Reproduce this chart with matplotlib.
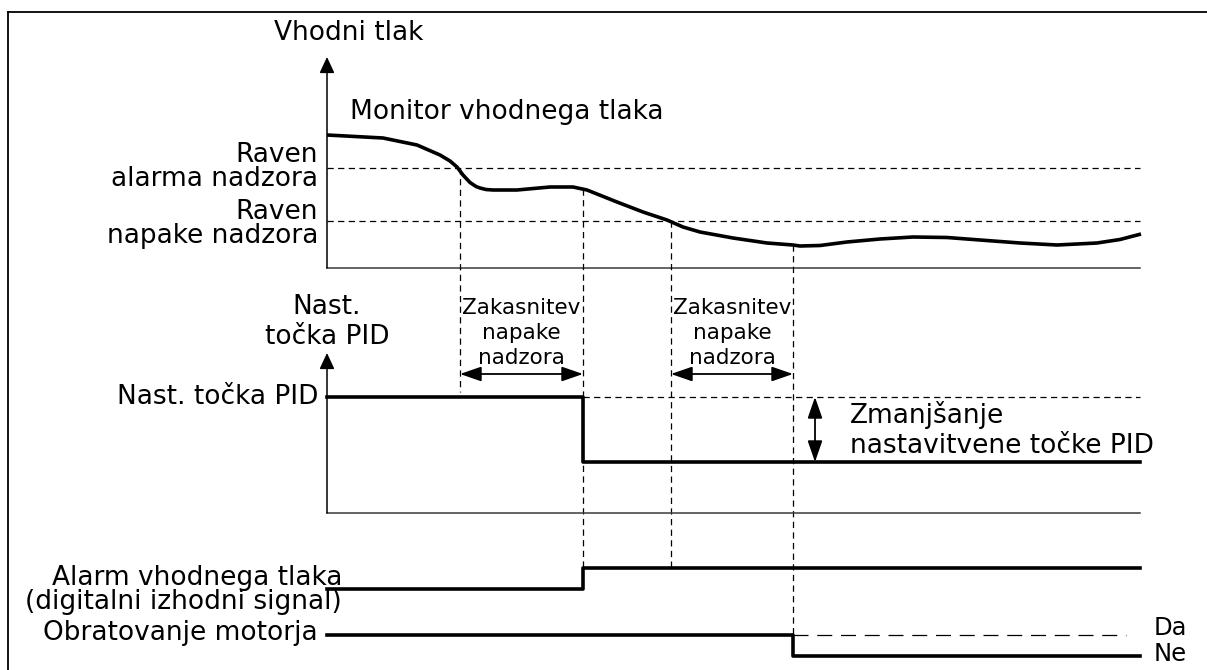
import matplotlib.pyplot as plt

# ── Data (diagram units = reference pixels, y grows downward) ────
t_start, t_end = 327, 1140
t_events = [460, 583, 671, 793]          # alarm cross, alarm delay end, fault cross, fault delay end

curve_t = [327, 383, 417, 440, 450, 457, 463, 470, 476, 480, 486, 493, 517, 550,
           573, 587, 617, 643, 667, 683, 700, 733, 767, 793, 800, 820, 847, 880,
           913, 947, 980, 1020, 1057, 1097, 1120, 1141]
curve_p = [135, 138, 145, 155, 161, 167, 175, 182.5, 186.5, 188, 189.5, 190, 190, 187,
           187, 190, 202, 212, 220, 227, 232, 238, 243, 245, 246, 245.5, 242, 239,
           237, 237.5, 240, 243, 245, 243, 239.5, 234]

alarm_level, fault_level = 168, 221
top_axis = (57, 268)
mid_axis = (353, 513)
pid_levels = [397, 462]
dig_levels = [589, 568]
motor_levels = [635, 656]

# ── Style ─────────────────────────────────────────────────────────
ink = '#000000'
axis_col = '#3a3a3a'
sig_lw = 2.6
axis_lw = 1.1
dash_lw = 0.9
dash = (0, (5, 3.5))
big = 19
small = 15.5

fig = plt.figure(figsize=(12.07, 6.70), dpi=100)
ax = fig.add_axes([0, 0, 1, 1])
ax.set_xlim(0, 1207)
ax.set_ylim(670, 0)
ax.axis('off')

# frame: top and left edges only
ax.plot([8, 1207], [12, 12], color=ink, lw=1.3)
ax.plot([8, 8], [12, 670], color=ink, lw=1.3)


def axis_arrow(x, y0, y1):
    ax.annotate('', xy=(x, y0), xytext=(x, y1),
                arrowprops=dict(arrowstyle='-|>,head_length=0.75,head_width=0.35',
                                color=ink, lw=axis_lw, mutation_scale=13,
                                shrinkA=0, shrinkB=0))


def dbl_arrow(p0, p1):
    ax.annotate('', xy=p1, xytext=p0,
                arrowprops=dict(arrowstyle='<|-|>,head_length=1.3,head_width=0.45',
                                color=ink, lw=1.3, mutation_scale=10,
                                shrinkA=0, shrinkB=0))


# ── Top panel: inlet pressure ────────────────────────────────────
axis_arrow(t_start, top_axis[0], top_axis[1])
ax.plot([t_start, t_end], [top_axis[1]] * 2, color=axis_col, lw=axis_lw)
for lvl in (alarm_level, fault_level):
    ax.plot([t_start, t_end], [lvl, lvl], color=ink, lw=dash_lw, ls=dash)
ax.plot(curve_t, curve_p, color=ink, lw=sig_lw, solid_capstyle='butt',
        solid_joinstyle='round')

ax.text(274, 33, 'Vhodni tlak', fontsize=big, va='center', ha='left')
ax.text(350, 112, 'Monitor vhodnega tlaka', fontsize=big, va='center', ha='left')
ax.text(318, 155, 'Raven', fontsize=big, va='center', ha='right')
ax.text(318, 179, 'alarma nadzora', fontsize=big, va='center', ha='right')
ax.text(318, 212, 'Raven', fontsize=big, va='center', ha='right')
ax.text(318, 236, 'napake nadzora', fontsize=big, va='center', ha='right')

# ── Event markers (vertical dashed) ──────────────────────────────
v_tops = [alarm_level, 189, fault_level, 245]
v_bots = [392, dig_levels[1], dig_levels[1], motor_levels[0]]
for x, y0, y1 in zip(t_events, v_tops, v_bots):
    ax.plot([x, x], [y0, y1], color=ink, lw=dash_lw, ls=dash)

# ── Middle panel: PID setpoint ───────────────────────────────────
axis_arrow(t_start, mid_axis[0], mid_axis[1])
ax.plot([t_start, t_end], [mid_axis[1]] * 2, color=axis_col, lw=axis_lw)
ax.plot([t_events[1], t_end], [pid_levels[0]] * 2, color=ink, lw=dash_lw, ls=dash)
ax.plot([t_start, t_events[1], t_events[1], t_end],
        [pid_levels[0], pid_levels[0], pid_levels[1], pid_levels[1]],
        color=ink, lw=sig_lw)

ax.text(327, 307, 'Nast.', fontsize=big, va='center', ha='center')
ax.text(327, 337, 'točka PID', fontsize=big, va='center', ha='center')
ax.text(318, 397, 'Nast. točka PID', fontsize=big, va='center', ha='right')

for a, b in ((t_events[0], t_events[1]), (t_events[2], t_events[3])):
    dbl_arrow((a, 374), (b, 374))
    xc = (a + b) / 2
    for yy, s in zip((308, 333, 358), ('Zakasnitev', 'napake', 'nadzora')):
        ax.text(xc, yy, s, fontsize=small, va='center', ha='center')

dbl_arrow((815, pid_levels[0]), (815, pid_levels[1]))
ax.text(850, 415, 'Zmanjšanje', fontsize=big, va='center', ha='left')
ax.text(850, 446, 'nastavitvene točke PID', fontsize=big, va='center', ha='left')

# ── Bottom panel: digital signals ────────────────────────────────
ax.plot([t_start, t_events[1], t_events[1], t_end],
        [dig_levels[0], dig_levels[0], dig_levels[1], dig_levels[1]],
        color=ink, lw=sig_lw)
ax.text(342, 578, 'Alarm vhodnega tlaka', fontsize=big, va='center', ha='right')
ax.text(342, 602, '(digitalni izhodni signal)', fontsize=big, va='center', ha='right')

ax.plot([t_start, t_events[3], t_events[3], t_end],
        [motor_levels[0], motor_levels[0], motor_levels[1], motor_levels[1]],
        color=ink, lw=sig_lw)
ax.plot([t_events[3], 1126], [motor_levels[0]] * 2, color=ink, lw=dash_lw,
        ls=(0, (12, 7)))
ax.text(318, 633, 'Obratovanje motorja', fontsize=big, va='center', ha='right')
ax.text(1154, 628, 'Da', fontsize=17.5, va='center', ha='left')
ax.text(1154, 654, 'Ne', fontsize=17.5, va='center', ha='left')

fig.savefig('out.png', dpi=100, facecolor='white')
